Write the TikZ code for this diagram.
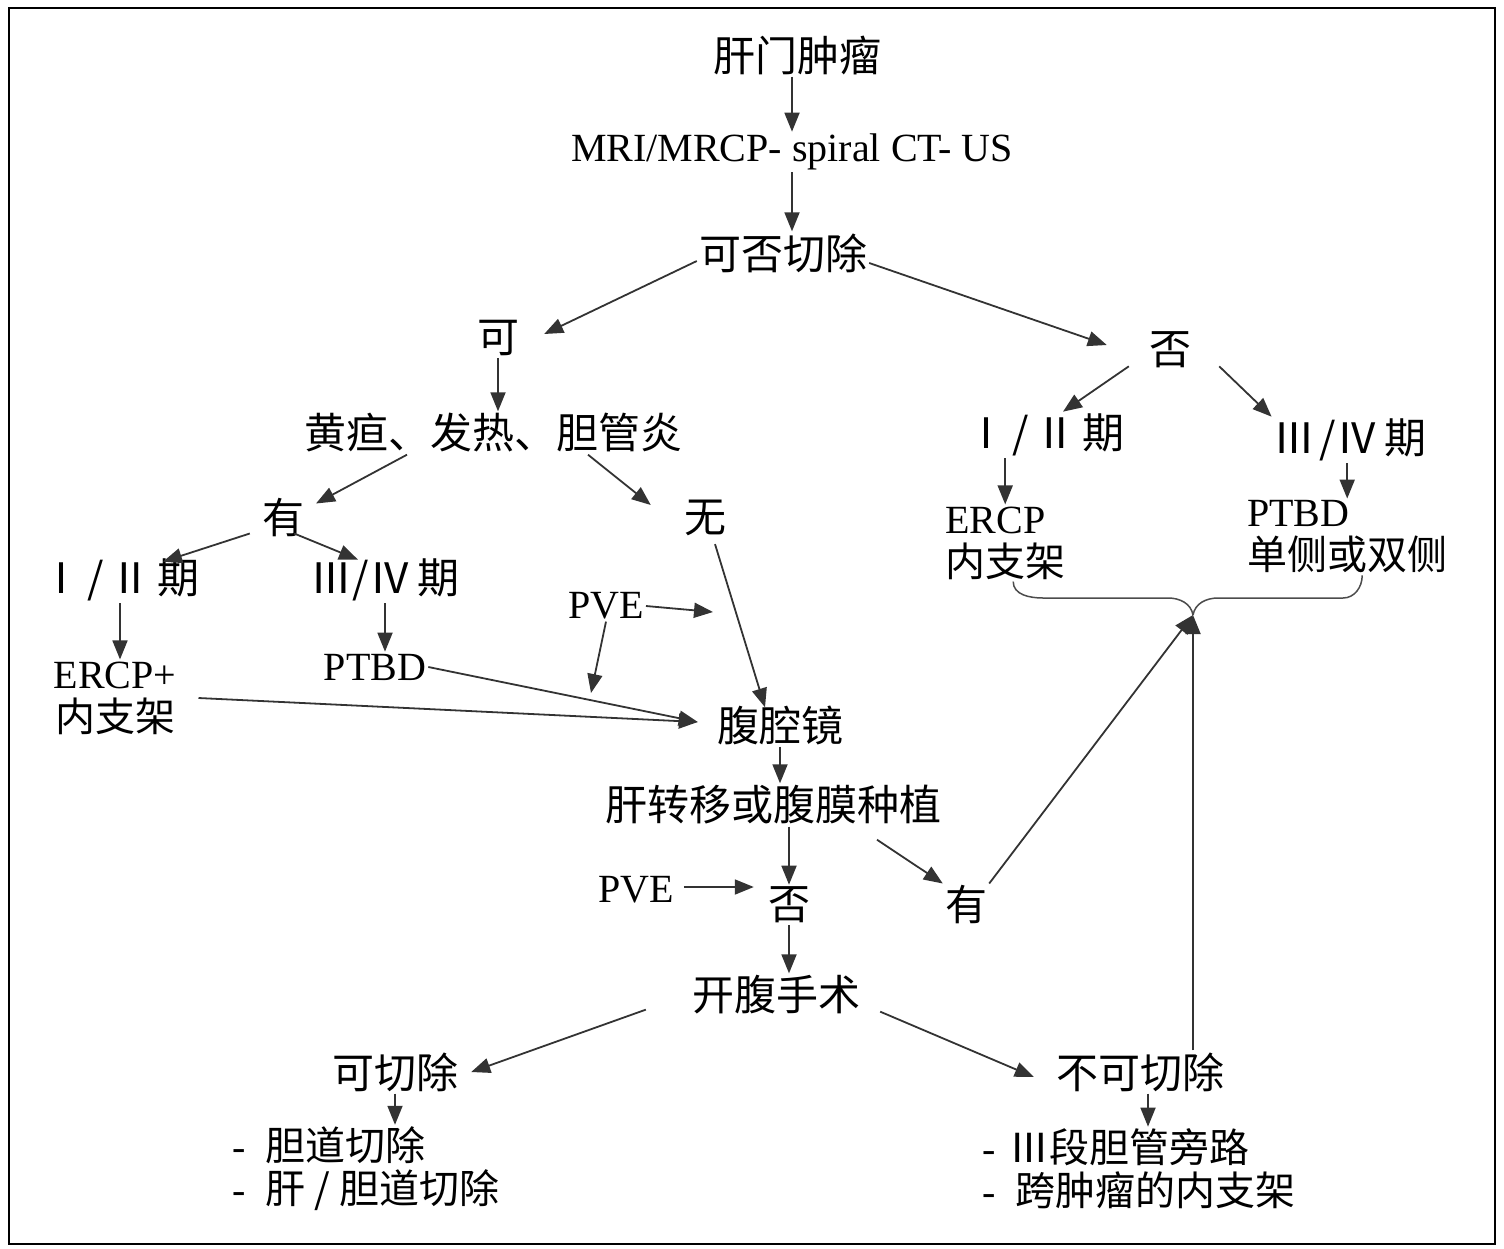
\documentclass[tikz,border=0pt]{standalone}
\usepackage{fontspec}
\setmainfont{Liberation Serif}
\newfontfamily\cjk{Noto Sans CJK SC}
\usetikzlibrary{arrows.meta}
\begin{document}
\begin{tikzpicture}[x=1pt, y=-1pt,
	txt/.style={font=\cjk\fontsize{42}{44}\selectfont, inner sep=2pt},
	lat/.style={font=\fontsize{40}{43}\selectfont, inner sep=2pt},
	arr/.style={draw=black!80, line width=1.8pt, -{Triangle[length=19pt,width=15pt]}},
	brc/.style={draw=black!70, line width=1.5pt}]
	\useasboundingbox (0,0) rectangle (1504,1248);
	\draw[line width=2pt] (9,8) rectangle (1495,1244);
	% main column
	\node[txt] (gm) at (797,55) {肝门肿瘤};
	\node[lat] (mri) at (792,152) {MRI/MRCP- spiral CT- US};
	\node[txt] (kf) at (783,253) {可否切除};
	\node[txt] (ke) at (498,338) {可};
	\node[txt] (fou) at (1170,350) {否};
	\node[txt] (hd) at (493,433) {黄疸、发热、胆管炎};
	\node[txt] (you) at (283,518) {有};
	\node[txt] (wu) at (705,518) {无};
	\node[txt] (st1) at (120,580) {Ⅰ\hspace{5pt}/\hspace{5pt}Ⅱ\hspace{6pt}期};
	\node[txt] (st3) at (385,580) {Ⅲ/Ⅳ\hspace{6pt}期};
	\node[lat, align=center] (ercp) at (115,698) {ERCP+\\{\cjk 内支架}};
	\node[lat] (ptbd) at (375,667) {PTBD};
	\node[lat] (pve) at (606,606) {PVE};
	\coordinate (pveA) at (713,612);
	\coordinate (pveB) at (591,693);
	\node[txt] (fqj) at (780,725) {腹腔镜};
	\node[txt] (gzy) at (773,805) {肝转移或腹膜种植};
	\node[lat] (pve2) at (636,890) {PVE};
	\node[txt] (fou2) at (789,905) {否};
	\node[txt] (you2) at (966,905) {有};
	\node[txt] (kf2) at (776,995) {开腹手术};
	\node[txt] (kqc) at (395,1072) {可切除};
	\node[txt] (bkqc) at (1140,1072) {不可切除};
	\node[lat, align=left, anchor=west] (ll) at (230,1169)
		{-\hspace{20pt}{\cjk 胆道切除}\\-\hspace{20pt}{\cjk 肝 / 胆道切除}};
	\node[lat, align=left, anchor=west] (rl) at (980,1169)
		{-\hspace{14pt}{\cjk Ⅲ段胆管旁路}\\-\hspace{20pt}{\cjk 跨肿瘤的内支架}};
	% right branch
	\node[txt] (rst1) at (1045,435) {Ⅰ\hspace{5pt}/\hspace{5pt}Ⅱ\hspace{6pt}期};
	\node[txt] (rst3) at (1350,440) {Ⅲ\hspace{4pt}/Ⅳ\hspace{6pt}期};
	\node[lat, align=left, anchor=west] (rercp) at (943,543) {ERCP\\{\cjk 内支架}};
	\node[lat, align=left, anchor=west] (rptbd) at (1245,537) {PTBD\\{\cjk 单侧或双侧}};
	\coordinate (merge) at (1193,615);
	% arrows
	\draw[arr] (mri.north |- gm.south) -- (mri.north);
	\draw[arr] (mri.south) -- (mri.south |- kf.north);
	\draw[arr] ([yshift=-8pt]kf.west) -- ([xshift=23pt,yshift=4pt]ke.east);
	\draw[arr] ([yshift=-10pt]kf.east) -- ([xshift=-40pt,yshift=5pt]fou.west);
	\draw[arr] (ke.south) -- (ke.south |- hd.north);
	\draw[arr] ([xshift=-86pt]hd.south) -- ([xshift=33pt,yshift=-7pt]you.north);
	\draw[arr] ([xshift=95pt]hd.south) -- ([xshift=-31pt,yshift=13pt]wu.west);
	\draw[arr] ([xshift=-10pt,yshift=6pt]you.south west) -- ([xshift=43pt,yshift=-5pt]st1.north);
	\draw[arr] ([xshift=-12pt,yshift=6pt]you.south east) -- ([xshift=-27pt,yshift=-3pt]st3.north);
	\draw[arr] (st1.south) -- (st1.south |- ercp.north);
	\draw[arr] (st3.south) -- (st3.south |- ptbd.north);
	\draw[arr] (pve.east) -- (pveA);
	\draw[arr] (pve.south) -- (pveB);
	\draw[arr] ([xshift=10pt,yshift=-6pt]wu.south) -- ([xshift=-15pt,yshift=-4pt]fqj.north);
	\draw[arr] ([xshift=20pt]ercp.east) -- ([xshift=-17pt,yshift=3pt]fqj.west);
	\draw[arr] (ptbd.east) -- ([xshift=-17pt,yshift=3pt]fqj.west);
	\draw[arr] (fqj.south) -- (fqj.south |- gzy.north);
	\draw[arr] (gzy.south -| fou2.north) -- (fou2.north);
	\draw[arr] ([xshift=104pt,yshift=-13pt]gzy.south) -- (you2.north west);
	\draw[arr, shorten <=8pt, shorten >=12pt] ([yshift=3pt]pve2.east) -- ([yshift=3pt]pve2.east -| fou2.west);
	\draw[arr] (you2.north east) -- (merge);
	\draw[arr] (fou2.south) -- (fou2.south |- kf2.north);
	\draw[arr] ([xshift=-44pt,yshift=7pt]kf2.south west) -- ([xshift=11pt]kqc.east);
	\draw[arr] ([xshift=18pt,yshift=5pt]kf2.south east) -- ([xshift=-20pt,yshift=-5pt]bkqc.west);
	\draw[arr] (kqc.south) -- (kqc.south |- ll.north);
	\draw[arr] ([xshift=8pt]bkqc.south) -- ([xshift=8pt]bkqc.south |- rl.north);
	\draw[arr] (bkqc.north -| merge) -- (merge);
	\draw[arr] ([xshift=-18pt,yshift=4pt]fou.south west) -- ([xshift=18pt]rst1.north);
	\draw[arr] ([xshift=26pt,yshift=4pt]fou.south east) -- (rst3.north west);
	\draw[arr] (rst1.south -| rercp.north) -- (rercp.north);
	\draw[arr] (rst3.south -| rptbd.north) -- (rptbd.north);
	% brace
	\draw[brc] ([xshift=8pt]rercp.south) to[out=-90,in=180] ([xshift=-150pt,yshift=17pt]merge)
		-- ([xshift=-25pt,yshift=17pt]merge) to[out=0,in=100] (merge);
	\draw[brc] ([xshift=15pt]rptbd.south) to[out=-90,in=0] ([xshift=150pt,yshift=17pt]merge)
		-- ([xshift=25pt,yshift=17pt]merge) to[out=180,in=80] (merge);
\end{tikzpicture}
\end{document}
